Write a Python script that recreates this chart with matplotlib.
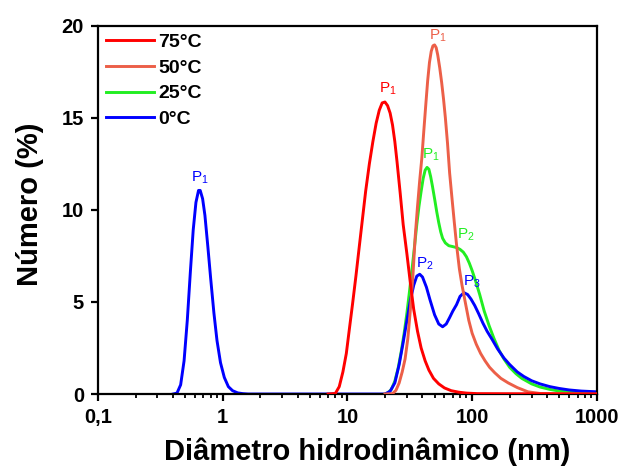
import matplotlib
matplotlib.use("Agg")
import matplotlib.pyplot as plt
from matplotlib.ticker import LogLocator, FixedLocator, FixedFormatter, NullFormatter

plt.rcParams["font.family"] = ["Liberation Sans", "DejaVu Sans"]
plt.rcParams["font.weight"] = "bold"

# 0°C (blue)
d_0c = [0.40, 0.43, 0.46, 0.49, 0.52, 0.55, 0.58, 0.61, 0.64, 0.66, 0.69, 0.72,
        0.76, 0.80, 0.85, 0.90, 0.96, 1.03, 1.11, 1.20, 1.32, 1.45, 1.6, 5, 15,
        20, 22, 24, 26, 28, 30, 32, 34, 36, 38, 40, 43, 46, 50, 54, 58, 62, 66,
        70, 75, 80, 86, 92, 98, 105, 113, 122, 132, 145, 160, 180, 200, 230,
        260, 300, 350, 420, 500, 600, 750, 1000]
n_0c = [0, 0.05, 0.5, 1.8, 4.0, 6.6, 8.9, 10.4, 11.05, 11.05, 10.6, 9.7,
        8.0, 6.3, 4.4, 2.9, 1.7, 0.9, 0.4, 0.18, 0.06, 0.02, 0, 0, 0,
        0, 0.15, 0.6, 1.6, 2.8, 4.0, 5.1, 5.9, 6.4, 6.5, 6.35, 5.8, 5.1, 4.3,
        3.8, 3.65, 3.8, 4.15, 4.5, 4.85, 5.3, 5.5, 5.4, 5.15, 4.8, 4.35, 3.85,
        3.4, 2.95, 2.45, 1.95, 1.6, 1.2, 0.95, 0.72, 0.55, 0.4, 0.3, 0.22,
        0.16, 0.12]

# 75°C (red)
d_75c = [7, 8, 8.6, 9.2, 9.8, 10.4, 11, 11.7, 12.4, 13.2, 14, 15, 16, 17, 18,
         19, 20, 21, 22, 23, 24, 25, 26.5, 28, 30, 32, 34, 36.5, 39, 42, 45,
         49, 54, 60, 68, 78, 90, 110, 1000]
n_75c = [0, 0.03, 0.4, 1.2, 2.2, 3.6, 4.9, 6.4, 7.9, 9.5, 11.0, 12.5, 13.7,
         14.7, 15.4, 15.8, 15.85, 15.65, 15.25, 14.6, 13.7, 12.6, 10.9, 9.2,
         7.6, 6.0, 4.6, 3.4, 2.5, 1.8, 1.3, 0.85, 0.55, 0.33, 0.18, 0.1, 0.05,
         0.02, 0]

# 50°C (salmon)
d_50c = [20, 23, 24.5, 26, 27.5, 29, 30.5, 32, 33.5, 35, 36.5, 38, 39.5, 41,
         42.5, 44, 45.5, 47, 48.5, 50, 51.5, 53, 55, 57, 59, 61, 63.5, 66, 69,
         72, 75, 79, 83, 88, 94, 100, 108, 117, 127, 138, 152, 170, 195, 230,
         280, 350, 1000]
n_50c = [0, 0.02, 0.2, 0.6, 1.2, 1.9, 3.0, 4.6, 6.4, 8.6, 10.2, 11.6, 12.8,
         14.3, 15.7, 17.0, 18.0, 18.6, 18.9, 18.95, 18.8, 18.4, 17.7, 16.9,
         16.0, 15.0, 13.6, 12.0, 10.6, 9.3, 8.1, 6.8, 5.9, 5.0, 4.0, 3.3, 2.7,
         2.2, 1.8, 1.45, 1.15, 0.85, 0.6, 0.35, 0.12, 0.03, 0]

# 25°C (green)
d_25c = [20, 21, 22.5, 24, 25.5, 27, 28.5, 30, 31.5, 33, 34.5, 36, 37.5, 39,
         40.5, 42, 43.5, 45, 46.5, 48, 50, 52, 54, 56, 58, 61, 65, 70, 75, 80,
         85, 90, 95, 100, 107, 115, 125, 137, 150, 165, 180, 200, 225, 250,
         300, 350, 420, 500, 600, 750, 1000]
n_25c = [0, 0.05, 0.25, 0.7, 1.4, 2.3, 3.3, 4.4, 5.6, 6.8, 8.0, 9.2, 10.2,
         11.0, 11.7, 12.15, 12.3, 12.2, 11.8, 11.3, 10.6, 9.9, 9.3, 8.8, 8.45,
         8.2, 8.05, 8.0, 7.95, 7.85, 7.7, 7.45, 7.1, 6.7, 6.1, 5.4, 4.5, 3.7,
         3.0, 2.35, 1.9, 1.45, 1.1, 0.85, 0.55, 0.38, 0.25, 0.16, 0.1, 0.07,
         0.05]

# peak labels: x of the "P", y of its baseline, subscript, colour
peak_x = [0.617, 19.8, 49.2, 43.9, 83.2, 39.3, 92.7]
peak_y = [11.56, 16.38, 19.28, 12.79, 8.46, 6.9, 5.91]
peak_sub = ["1", "1", "1", "1", "2", "2", "3"]
peak_col = ["#0000ff", "#ff0000", "#ec5f48", "#22ee22", "#22ee22",
            "#0000ff", "#0000ff"]

fig = plt.figure(figsize=(6.23, 4.73), dpi=100)
ax = fig.add_axes([0.1573, 0.167, 0.8007, 0.779])

lw = 2.1
ax.plot(d_75c, n_75c, color="#ff0000", lw=lw, label="75°C", zorder=4)
ax.plot(d_50c, n_50c, color="#ec5f48", lw=lw, label="50°C", zorder=3)
ax.plot(d_25c, n_25c, color="#22ee22", lw=lw, label="25°C", zorder=2)
ax.plot(d_0c, n_0c, color="#0000ff", lw=lw, label="0°C", zorder=2.5)

for x, y, sub, c in zip(peak_x, peak_y, peak_sub, peak_col):
    ax.annotate("P$_{\\mathregular{" + sub + "}}$", xy=(x, y),
                xytext=(-3.7, 0), textcoords="offset points",
                color=c, fontsize=11, fontweight="normal",
                ha="left", va="baseline")

ax.set_xscale("log")
ax.set_xlim(0.1, 1000)
ax.set_ylim(0, 20)

ax.xaxis.set_major_locator(FixedLocator([0.1, 1, 10, 100, 1000]))
ax.xaxis.set_major_formatter(FixedFormatter(["0,1", "1", "10", "100", "1000"]))
ax.xaxis.set_minor_locator(LogLocator(base=10, subs=range(2, 10)))
ax.xaxis.set_minor_formatter(NullFormatter())
ax.set_yticks([0, 5, 10, 15, 20])

for s in ax.spines.values():
    s.set_linewidth(1.6)
ax.tick_params(which="major", direction="out", length=5, width=1.6,
               labelsize=14.5)
ax.tick_params(axis="x", which="major", pad=5)
ax.tick_params(axis="y", which="major", pad=5)
ax.tick_params(which="minor", direction="out", length=3, width=1.3)
ax.tick_params(top=False, right=False)

ax.set_xlabel("Diâmetro hidrodinâmico (nm)", fontsize=21, fontweight="bold")
ax.set_ylabel("Número (%)", fontsize=21, fontweight="bold")
ax.xaxis.set_label_coords(0.54, -0.118)
ax.yaxis.set_label_coords(-0.108, 0.515)

ax.legend(loc="upper left", frameon=False, handlelength=2.5,
          labelspacing=0.42, borderpad=0, borderaxespad=0.4,
          handletextpad=0.2, prop={"weight": "bold", "size": 14})

fig.savefig("out.png", dpi=100)
